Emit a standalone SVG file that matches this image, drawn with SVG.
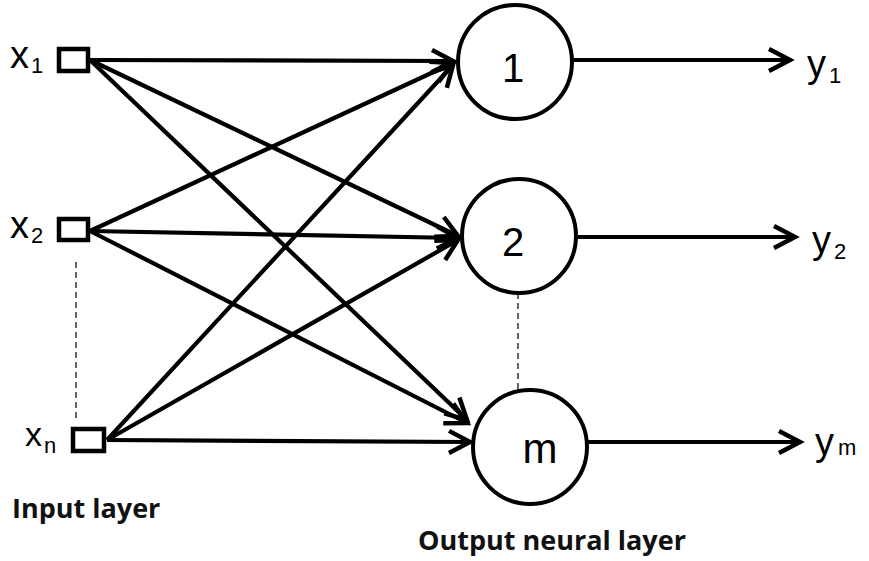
<svg xmlns="http://www.w3.org/2000/svg" width="869" height="561" viewBox="0 0 869 561">
<style>
.ln{stroke:#000;stroke-width:4.2;fill:none;marker-end:url(#ah)}
.sq{fill:#fff;stroke:#000;stroke-width:4.5}
.cir{fill:#fff;stroke:#000;stroke-width:4}
.dash{stroke:#000;stroke-width:1.2;stroke-dasharray:6 4;fill:none}
.t{font-family:"Liberation Sans",Arial,sans-serif;fill:#000}
.b{font-family:"Open Sans","Liberation Sans",sans-serif;font-weight:bold;fill:#111}
</style>
<defs>
<marker id="ah" markerUnits="userSpaceOnUse" orient="auto" refX="0" refY="0" overflow="visible" markerWidth="30" markerHeight="30">
<path d="M-21,-11 L0,0 L-21,11" fill="none" stroke="#000" stroke-width="4.5" stroke-linejoin="miter"/>
</marker>
</defs>
<rect width="869" height="561" fill="#fff"/>
<g id="connectors">
<line class="ln" x1="90" y1="60" x2="453" y2="61"/>
<line class="ln" x1="90" y1="60" x2="458" y2="236"/>
<line class="ln" x1="90" y1="60" x2="467" y2="420"/>
<line class="ln" x1="90" y1="231" x2="453" y2="63"/>
<line class="ln" x1="90" y1="231" x2="458" y2="238"/>
<line class="ln" x1="90" y1="231" x2="467" y2="423"/>
<line class="ln" x1="107" y1="440" x2="453" y2="65"/>
<line class="ln" x1="107" y1="440" x2="458" y2="240"/>
<line class="ln" x1="107" y1="440" x2="470" y2="442"/>
<line class="ln" x1="573" y1="60" x2="790" y2="60"/>
<line class="ln" x1="577" y1="237" x2="795" y2="237"/>
<line class="ln" x1="588" y1="442" x2="800" y2="442"/>
<line class="dash" x1="76" y1="262" x2="76" y2="422"/>
<line class="dash" x1="518" y1="293" x2="518" y2="390"/>
</g>
<g id="x1">
<rect class="sq" x="59" y="49" width="29" height="22"/>
<text class="t" x="10" y="68" font-size="38">x</text>
<text class="t" x="31" y="73" font-size="22">1</text>
</g>
<g id="x2">
<rect class="sq" x="59" y="219" width="29" height="21"/>
<text class="t" x="10" y="238" font-size="38">x</text>
<text class="t" x="31" y="243" font-size="22">2</text>
</g>
<g id="xn">
<rect class="sq" x="73" y="429" width="31" height="22"/>
<text class="t" x="25" y="446" font-size="34">x</text>
<text class="t" x="44" y="453" font-size="22">n</text>
</g>
<g id="n1">
<circle class="cir" cx="515" cy="62" r="57"/>
<text class="t" x="513" y="82" font-size="40" text-anchor="middle">1</text>
</g>
<g id="n2">
<circle class="cir" cx="519" cy="236" r="57"/>
<text class="t" x="513" y="256" font-size="40" text-anchor="middle">2</text>
</g>
<g id="nm">
<circle class="cir" cx="530" cy="447" r="57"/>
<text class="t" x="540" y="463" font-size="42" text-anchor="middle">m</text>
</g>
<g id="y1">
<text class="t" x="807" y="77" font-size="38">y</text>
<text class="t" x="829" y="83" font-size="22">1</text>
</g>
<g id="y2">
<text class="t" x="812" y="253" font-size="38">y</text>
<text class="t" x="834" y="259" font-size="22">2</text>
</g>
<g id="ym">
<text class="t" x="815" y="455" font-size="38">y</text>
<text class="t" x="838" y="455" font-size="22">m</text>
</g>
<g id="labels">
<text class="b" x="12" y="518" font-size="27">Input layer</text>
<text class="b" x="418" y="550" font-size="27">Output neural layer</text>
</g>
</svg>
